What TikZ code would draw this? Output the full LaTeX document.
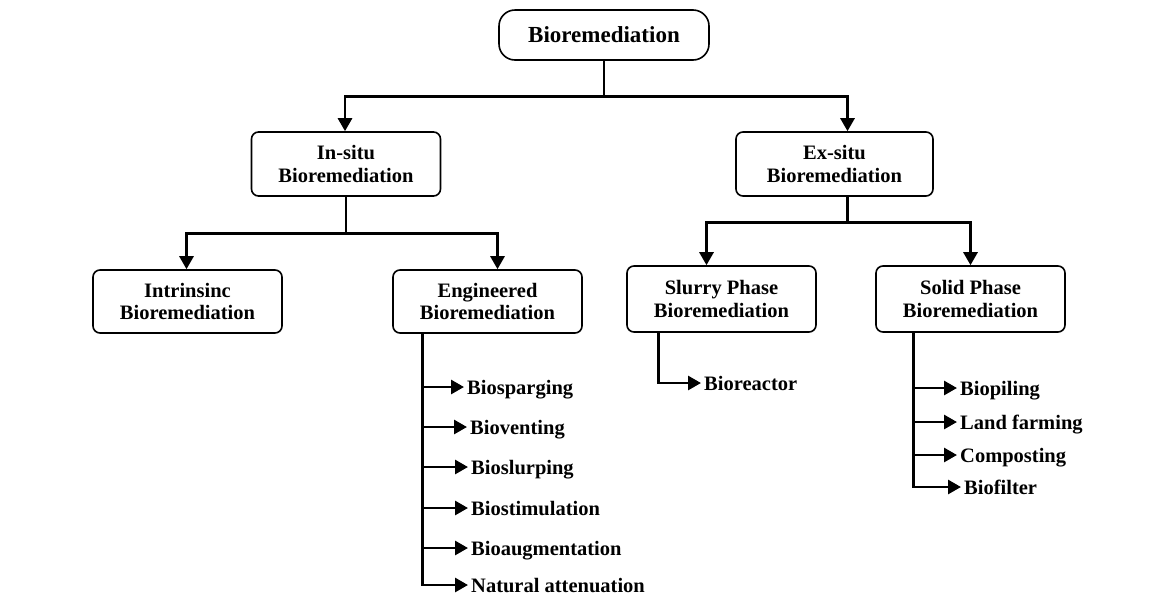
\documentclass[tikz,border=0pt]{standalone}
\usepackage{fontspec}
\setmainfont{Liberation Serif}
\usetikzlibrary{arrows.meta}
\usetikzlibrary{positioning}

\begin{document}
\begin{tikzpicture}[x=1pt,y=-1pt,>={Triangle[length=13pt,width=14pt]},
	box/.style={draw,line width=1.6pt,rounded corners=7pt,align=center,
		minimum width=189pt,minimum height=64pt,
		font=\fontsize{20.5}{22.5}\selectfont\bfseries},
	item/.style={anchor=west,inner sep=3pt,text height=15pt,text depth=1pt,
		font=\fontsize{20.5}{22}\selectfont\bfseries},
	link/.style={line width=2.8pt}]
	
	\useasboundingbox (0,0) rectangle (1164,595);
	
	\node[box,rounded corners=16pt,minimum width=210pt,minimum height=50pt,
		font=\fontsize{23}{25}\selectfont\bfseries] (root) at (604,35) {Bioremediation};
	\node[box] (insitu) at (346,164) {In-situ\\Bioremediation};
	\node[box,minimum width=197pt] (exsitu) at (834.5,164) {Ex-situ\\Bioremediation};
	\node[box,minimum height=63pt] (intr) at (187.5,301.5) {Intrinsinc\\Bioremediation};
	\node[box,minimum height=63pt] (eng) at (487.5,301.5) {Engineered\\Bioremediation};
	\node[box,minimum height=66pt] (slurry) at (721.5,299) {Slurry Phase\\Bioremediation};
	\node[box,minimum height=66pt] (solid) at (970.5,299) {Solid Phase\\Bioremediation};
	
	% engineered techniques
	\node[item] (bsp) at (464,387) {Biosparging};
	\node[item] (bvent) at (467,427) {Bioventing};
	\node[item] (bslurp) at (468,467) {Bioslurping};
	\node[item] (bstim) at (468,508) {Biostimulation};
	\node[item] (baug) at (468,548) {Bioaugmentation};
	\node[item] (natt) at (468,585) {Natural attenuation};
	
	% ex-situ techniques
	\node[item] (breact) at (701,383) {Bioreactor};
	\node[item] (bpile) at (957,388) {Biopiling};
	\node[item] (land) at (957,422) {Land farming};
	\node[item] (comp) at (957,455) {Composting};
	\node[item] (bfilt) at (961,487) {Biofilter};
	
	% junctions
	\coordinate (rj) at ([yshift=-36pt]root.south);
	\coordinate (ij) at ([yshift=-37pt]insitu.south);
	\coordinate (ej) at ([xshift=13pt,yshift=-26pt]exsitu.south);
	\coordinate (engstem) at ([xshift=-65pt]eng.south);
	\coordinate (slstem) at ([xshift=-63pt]slurry.south);
	\coordinate (sostem) at ([xshift=-57pt]solid.south);
	
	\draw[link] (root.south) -- (rj);
	\draw[link,->] (rj) -| ([xshift=-1pt]insitu.north);
	\draw[link,->] (rj) -| ([xshift=13pt]exsitu.north);
	
	\draw[link] (insitu.south) -- (ij);
	\draw[link,->] (ij) -| ([xshift=-1pt]intr.north);
	\draw[link,->] (ij) -| ([xshift=10pt]eng.north);
	
	\draw[link] ([xshift=13pt]exsitu.south) -- (ej);
	\draw[link,->] (ej) -| ([xshift=-15pt]slurry.north);
	\draw[link,->] (ej) -| (solid.north);
	
	\draw[link,->] (slstem) |- (breact.west);
	
	\draw[link,->] (engstem) |- (natt.west);
	\draw[link,->] (engstem |- bsp.west) -- (bsp.west);
	\draw[link,->] (engstem |- bvent.west) -- (bvent.west);
	\draw[link,->] (engstem |- bslurp.west) -- (bslurp.west);
	\draw[link,->] (engstem |- bstim.west) -- (bstim.west);
	\draw[link,->] (engstem |- baug.west) -- (baug.west);
	
	\draw[link,->] (sostem) |- (bfilt.west);
	\draw[link,->] (sostem |- bpile.west) -- (bpile.west);
	\draw[link,->] (sostem |- land.west) -- (land.west);
	\draw[link,->] (sostem |- comp.west) -- (comp.west);
\end{tikzpicture}
\end{document}
